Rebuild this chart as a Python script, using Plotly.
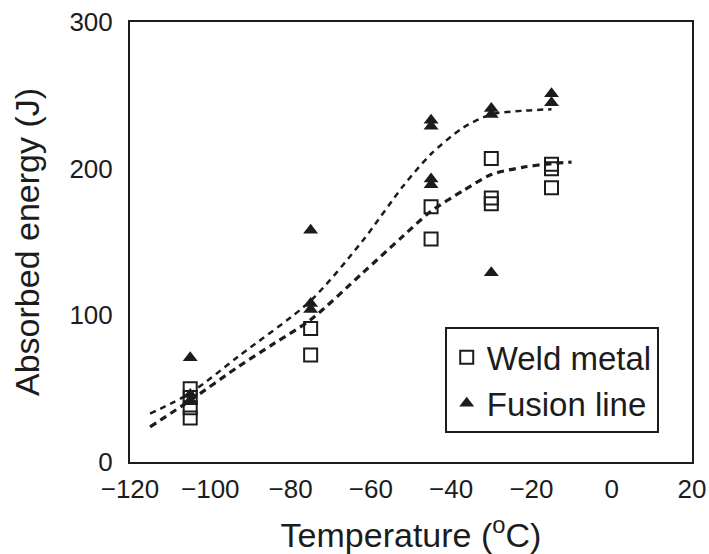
import plotly.graph_objects as go

# Charpy impact results: weld metal vs fusion line
weld_temp = [-105, -105, -105, -105, -75, -75, -45, -45, -30, -30, -30, -15, -15, -15]
weld_energy = [50, 44, 37, 30, 91, 73, 174, 152, 207, 180, 176, 203, 200, 187]

fusion_temp = [-105, -105, -105, -75, -75, -75, -45, -45, -45, -45, -30, -30, -30, -15, -15]
fusion_energy = [71, 46, 42, 158, 108, 104, 233, 229, 193, 189, 241, 237, 129, 251, 245]

# Transition curves traced through the scatter
weld_curve_t = [-115, -105, -93, -84, -75, -62, -52, -45, -37, -30, -22, -15, -10]
weld_curve_e = [24, 42, 65, 81, 97, 129, 154, 171, 185, 196, 201, 203.5, 204.5]

fusion_curve_t = [-115, -105, -93, -75, -62, -52, -45, -37, -30, -22, -15]
fusion_curve_e = [33, 47, 72, 110, 151, 188, 210, 228, 237, 239.5, 240.5]

x_ticks = [-120, -100, -80, -60, -40, -20, 0, 20]
y_ticks = [0, 100, 200, 300]

INK = "#1c1c1c"
FONT = "Liberation Sans, Arial, Helvetica, sans-serif"

fig = go.Figure()

fig.add_trace(go.Scatter(
    x=fusion_curve_t, y=fusion_curve_e, mode="lines", showlegend=False,
    line=dict(color=INK, width=2.5, dash="6px,5px", shape="spline", smoothing=0.8),
    hoverinfo="skip"))
fig.add_trace(go.Scatter(
    x=weld_curve_t, y=weld_curve_e, mode="lines", showlegend=False,
    line=dict(color=INK, width=3.2, dash="7px,5px", shape="spline", smoothing=0.8),
    hoverinfo="skip"))

fig.add_trace(go.Scatter(
    x=weld_temp, y=weld_energy, mode="markers", name="Weld metal",
    marker=dict(symbol="square-open", size=13, color=INK, line=dict(width=2, color=INK))))
fig.add_trace(go.Scatter(
    x=fusion_temp, y=fusion_energy, mode="markers", name="Fusion line",
    marker=dict(symbol="triangle-up", size=13, color=INK, line=dict(width=0))))

fig.update_layout(
    width=709, height=554,
    margin=dict(l=130, r=17, t=22, b=92),
    paper_bgcolor="white", plot_bgcolor="white",
    font=dict(family=FONT, color=INK, size=26),
    showlegend=True,
    legend=dict(
        x=0.56, y=0.306, xanchor="left", yanchor="top",
        bgcolor="white", bordercolor=INK, borderwidth=2,
        font=dict(size=33, family=FONT, color=INK),
        itemwidth=30, tracegroupgap=0,
    ),
)

fig.update_xaxes(
    range=[-120, 20], tickvals=x_ticks, ticktext=[f"{v:d}".replace("-", "\u2212") for v in x_ticks],
    showline=True, mirror=True, linecolor=INK, linewidth=2,
    ticks="", showgrid=False, zeroline=False, automargin=False,
    ticklabelstandoff=3,
    tickfont=dict(size=26, family=FONT, color=INK),
    title=dict(text="Temperature (<sup>o</sup>C)", font=dict(size=34, family=FONT, color=INK), standoff=21),
)
fig.update_yaxes(
    range=[0, 300], tickvals=y_ticks,
    showline=True, mirror=True, linecolor=INK, linewidth=2,
    ticks="", showgrid=False, zeroline=False, automargin=False,
    ticklabelstandoff=10,
    tickfont=dict(size=26, family=FONT, color=INK),
    title=dict(text="Absorbed energy (J)", font=dict(size=34, family=FONT, color=INK), standoff=20),
)

fig.write_html("out.html")
